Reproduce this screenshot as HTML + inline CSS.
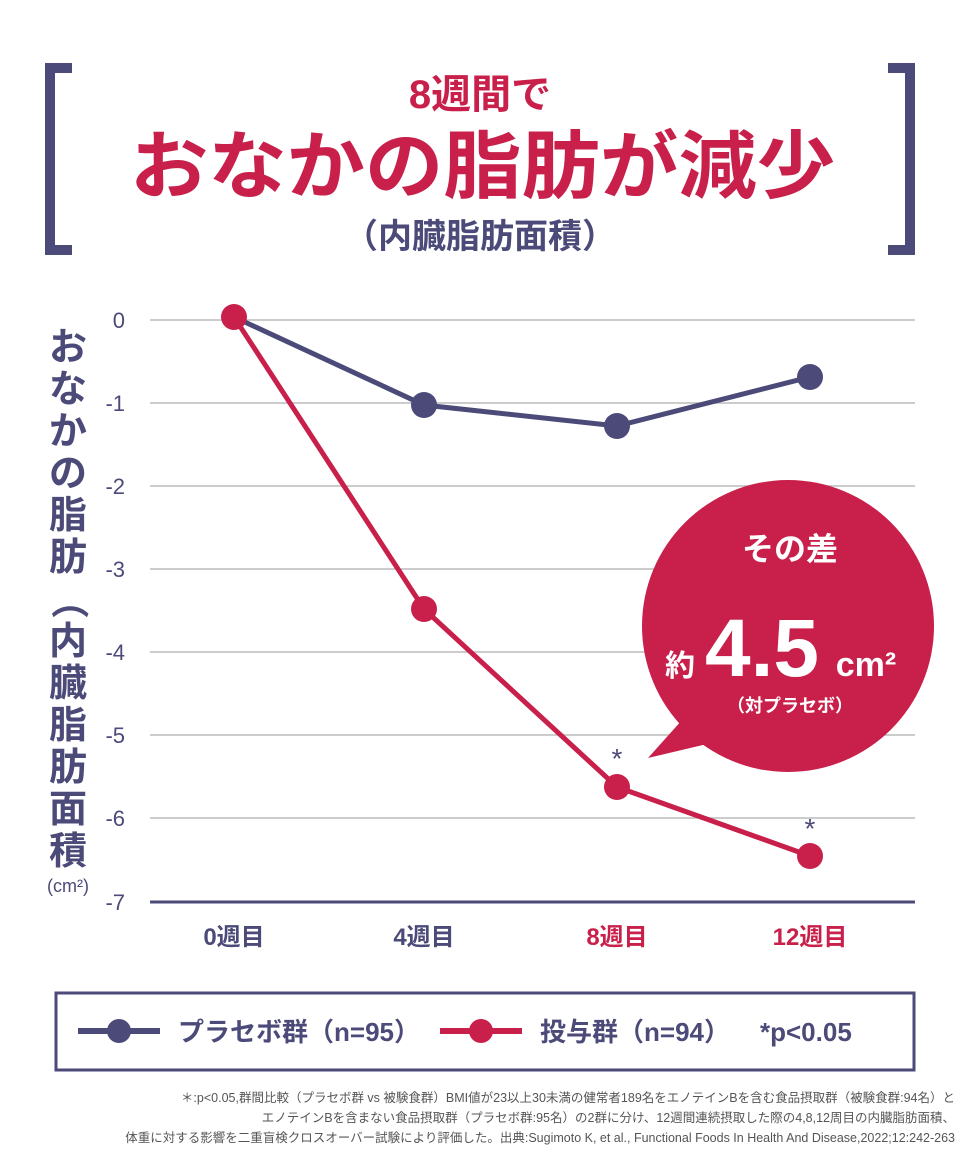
<!DOCTYPE html>
<html><head><meta charset="utf-8"><style>
body{margin:0;background:#fff;}
svg{display:block;font-family:"Liberation Sans","Noto Sans CJK JP",sans-serif;}
</style></head><body>
<svg width="960" height="1175" viewBox="0 0 960 1175">
<path d="M72 68 H50 V250 H72" fill="none" stroke="#4b4a78" stroke-width="10"/>
<path d="M888 68 H910 V250 H888" fill="none" stroke="#4b4a78" stroke-width="10"/>
<text x="480" y="108" text-anchor="middle" font-size="40" font-weight="bold" fill="#c8204a">8週間で</text>
<text x="130" y="192" textLength="705" lengthAdjust="spacingAndGlyphs" font-size="74" font-weight="bold" fill="#c8204a">おなかの脂肪が減少</text>
<text x="480" y="248" text-anchor="middle" font-size="34" font-weight="bold" fill="#4b4a78">（内臓脂肪面積）</text>
<g stroke="#bbb" stroke-width="1.5">
<line x1="150" y1="320" x2="915" y2="320"/>
<line x1="150" y1="403" x2="915" y2="403"/>
<line x1="150" y1="486" x2="915" y2="486"/>
<line x1="150" y1="569" x2="915" y2="569"/>
<line x1="150" y1="652" x2="915" y2="652"/>
<line x1="150" y1="735" x2="915" y2="735"/>
<line x1="150" y1="818" x2="915" y2="818"/>
</g>
<line x1="150" y1="902" x2="915" y2="902" stroke="#4b4a78" stroke-width="3"/>
<g font-size="22" fill="#4b4a78" text-anchor="end">
<text x="125" y="328">0</text><text x="125" y="411">-1</text><text x="125" y="494">-2</text>
<text x="125" y="577">-3</text><text x="125" y="660">-4</text><text x="125" y="743">-5</text>
<text x="125" y="826">-6</text><text x="125" y="910">-7</text>
</g>
<g font-size="38" font-weight="bold" fill="#4b4a78" text-anchor="middle">
<text x="68" y="360">お</text><text x="68" y="402">な</text><text x="68" y="444">か</text>
<text x="68" y="486">の</text><text x="68" y="528">脂</text><text x="68" y="570">肪</text>
<text x="68" y="612" transform="rotate(90 68 600)">（</text>
<text x="68" y="654">内</text><text x="68" y="696">臓</text><text x="68" y="738">脂</text>
<text x="68" y="780">肪</text><text x="68" y="822">面</text><text x="68" y="864">積</text>
</g>
<text x="68" y="892" font-size="18" fill="#4b4a78" text-anchor="middle">(cm²)</text>
<g font-size="24" font-weight="bold" text-anchor="middle">
<text x="234" y="945" fill="#4b4a78">0週目</text>
<text x="424" y="945" fill="#4b4a78">4週目</text>
<text x="617" y="945" fill="#c8204a">8週目</text>
<text x="810" y="945" fill="#c8204a">12週目</text>
</g>
<circle cx="788" cy="626" r="146" fill="#c8204a"/>
<path d="M700 700 L648 758 L745 735 Z" fill="#c8204a"/>
<g fill="#fff" text-anchor="middle" font-weight="bold">
<text x="790" y="560" font-size="32">その差</text>
<text x="680" y="676" font-size="30">約</text>
<text x="762" y="676" font-size="82">4.5</text>
<text x="866" y="676" font-size="34">cm²</text>
<text x="790" y="712" font-size="18">（対プラセボ）</text>
</g>
<polyline points="234,317 424,405 617,426 810,377" fill="none" stroke="#4b4a78" stroke-width="5"/>
<polyline points="234,317 424,609 617,787 810,856" fill="none" stroke="#c8204a" stroke-width="5"/>
<g fill="#4b4a78"><circle cx="424" cy="405" r="13"/><circle cx="617" cy="426" r="13"/><circle cx="810" cy="377" r="13"/></g>
<g fill="#c8204a"><circle cx="234" cy="317" r="13"/><circle cx="424" cy="609" r="13"/><circle cx="617" cy="787" r="13"/><circle cx="810" cy="856" r="13"/></g>
<g font-size="28" fill="#4b4a78" text-anchor="middle"><text x="617" y="768">*</text><text x="810" y="838">*</text></g>
<rect x="56" y="993" width="858" height="77" fill="#fff" stroke="#4b4a78" stroke-width="3"/>
<line x1="78" y1="1031" x2="160" y2="1031" stroke="#4b4a78" stroke-width="6"/><circle cx="119" cy="1031" r="12" fill="#4b4a78"/>
<text x="178" y="1041" font-size="26" font-weight="bold" fill="#4b4a78">プラセボ群（n=95）</text>
<line x1="440" y1="1031" x2="522" y2="1031" stroke="#c8204a" stroke-width="6"/><circle cx="481" cy="1031" r="12" fill="#c8204a"/>
<text x="540" y="1041" font-size="26" font-weight="bold" fill="#4b4a78">投与群（n=94）</text>
<text x="760" y="1041" font-size="26" font-weight="bold" fill="#4b4a78">*p&lt;0.05</text>
<g font-size="12.5" fill="#555" text-anchor="end">
<text x="955" y="1102">＊:p&lt;0.05,群間比較（プラセボ群 vs 被験食群）BMI値が23以上30未満の健常者189名をエノテインBを含む食品摂取群（被験食群:94名）と</text>
<text x="955" y="1122">エノテインBを含まない食品摂取群（プラセボ群:95名）の2群に分け、12週間連続摂取した際の4,8,12周目の内臓脂肪面積、</text>
<text x="955" y="1142">体重に対する影響を二重盲検クロスオーバー試験により評価した。出典:Sugimoto K, et al., Functional Foods In Health And Disease,2022;12:242-263</text>
</g>
</svg>
</body></html>
